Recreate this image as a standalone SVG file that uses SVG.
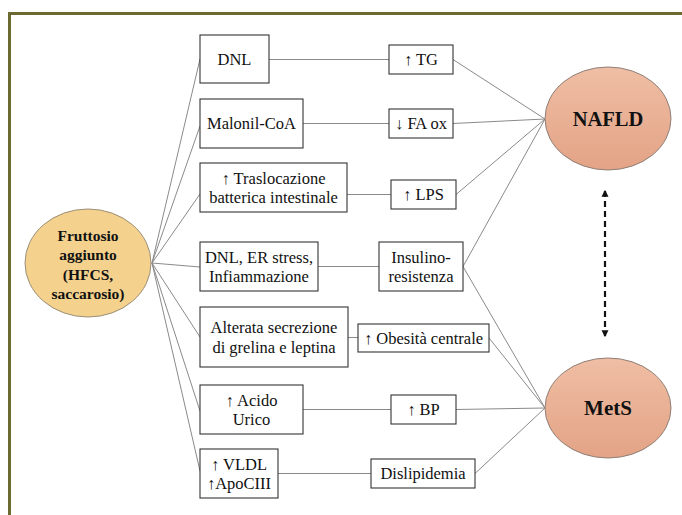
<svg xmlns="http://www.w3.org/2000/svg" width="682" height="515" viewBox="0 0 682 515">
<defs>
<style>
.box{fill:#fff;stroke:#333;stroke-width:1.1}
.t{font-family:"Liberation Serif","DejaVu Serif",serif;font-size:16.5px;fill:#111;text-anchor:middle;dominant-baseline:central}
.b{font-family:"Liberation Serif","DejaVu Serif",serif;font-weight:bold;fill:#111;text-anchor:middle;dominant-baseline:central}
.c{fill:none;stroke:#8a8a8a;stroke-width:1}
</style>
<linearGradient id="sal" x1="0" y1="0" x2="0" y2="1">
<stop offset="0" stop-color="#efbea4"/>
<stop offset="1" stop-color="#e3a386"/>
</linearGradient>
<marker id="ah" viewBox="0 0 6 6" refX="5" refY="3" markerWidth="3.2" markerHeight="3.2" orient="auto-start-reverse">
<path d="M0,0 L6,3 L0,6 Z" fill="#111"/>
</marker>
</defs>
<rect width="682" height="515" fill="#fff"/>
<path d="M9.5,515 V13.5 H682" fill="none" stroke="#6b6a30" stroke-width="3"/>
<g id="connectors">
<path class="c" d="M152,263 L200,59 M152,263 L200,126 M152,263 L200,194 M152,263 L200,267 M152,263 L200,337 M152,263 L200,411 M152,263 L200,471"/>
<path class="c" d="M269,59.5 H389 M303,123.5 H389 M347,194.5 H391 M318,266.5 H379 M348,337.5 H358 M303,409.5 H391 M278,473.5 H371"/>
<path class="c" d="M453,59.5 L545,119 M453,123.5 L545,119 M456,194.5 L545,119 M463,266.5 L545,119 M463,266.5 L545,408 M489,338 L545,408 M456,409.5 L545,408 M475,473.5 L545,408"/>
<path d="M605,191 V336" fill="none" stroke="#111" stroke-width="2.2" stroke-dasharray="6,4" marker-start="url(#ah)" marker-end="url(#ah)"/>
</g>
<g id="fruttosio">
<ellipse cx="88" cy="263" rx="63" ry="54" fill="#f5d18e" stroke="#9a8f7a" stroke-width="1"/>
<text class="b" font-size="15.5" x="88" y="235">Fruttosio</text>
<text class="b" font-size="15.5" x="88" y="254.5">aggiunto</text>
<text class="b" font-size="15.5" x="88" y="274">(HFCS,</text>
<text class="b" font-size="15.5" x="88" y="293.5">saccarosio)</text>
</g>
<g id="nafld">
<ellipse cx="608" cy="118.5" rx="63" ry="51.5" fill="url(#sal)" stroke="#8f7f77" stroke-width="1"/>
<text class="b" font-size="20.5" x="608" y="119">NAFLD</text>
</g>
<g id="mets">
<ellipse cx="608" cy="408" rx="63" ry="50" fill="url(#sal)" stroke="#8f7f77" stroke-width="1"/>
<text class="b" font-size="21" x="608" y="408">MetS</text>
</g>
<g id="dnl"><rect class="box" x="200" y="35" width="69" height="48"/><text class="t" x="234.5" y="59">DNL</text></g>
<g id="malonil"><rect class="box" x="200" y="99" width="103" height="49"/><text class="t" x="251.5" y="123.5">Malonil-CoA</text></g>
<g id="traslocazione"><rect class="box" x="200" y="163" width="147" height="49"/><text class="t" x="273.5" y="178">↑ Traslocazione</text><text class="t" x="273.5" y="197.5">batterica intestinale</text></g>
<g id="dnl-er"><rect class="box" x="200" y="242" width="118" height="49"/><text class="t" x="259" y="257">DNL, ER stress,</text><text class="t" x="259" y="276.5">Infiammazione</text></g>
<g id="alterata"><rect class="box" x="200" y="307" width="148" height="60"/><text class="t" x="274" y="327">Alterata secrezione</text><text class="t" x="274" y="347">di grelina e leptina</text></g>
<g id="acido"><rect class="box" x="200" y="385" width="103" height="49"/><text class="t" x="251.5" y="400">↑ Acido</text><text class="t" x="251.5" y="419.5">Urico</text></g>
<g id="vldl"><rect class="box" x="200" y="449" width="78" height="49"/><text class="t" x="239" y="464">↑ VLDL</text><text class="t" x="239" y="483.5">↑ApoCIII</text></g>
<g id="tg"><rect class="box" x="389" y="45" width="64" height="29"/><text class="t" x="421" y="59.5">↑ TG</text></g>
<g id="faox"><rect class="box" x="389" y="109" width="64" height="29"/><text class="t" x="421" y="123.5">↓ FA ox</text></g>
<g id="lps"><rect class="box" x="391" y="180" width="65" height="29"/><text class="t" x="423.5" y="194.5">↑ LPS</text></g>
<g id="insulino"><rect class="box" x="379" y="242" width="84" height="49"/><text class="t" x="421" y="257">Insulino-</text><text class="t" x="421" y="276.5">resistenza</text></g>
<g id="obesita"><rect class="box" x="358" y="324" width="131" height="28"/><text class="t" x="423.5" y="338">↑ Obesità centrale</text></g>
<g id="bp"><rect class="box" x="391" y="395" width="65" height="29"/><text class="t" x="423.5" y="409.5">↑ BP</text></g>
<g id="dislipidemia"><rect class="box" x="371" y="459" width="104" height="29"/><text class="t" x="423" y="473.5">Dislipidemia</text></g>
</svg>
